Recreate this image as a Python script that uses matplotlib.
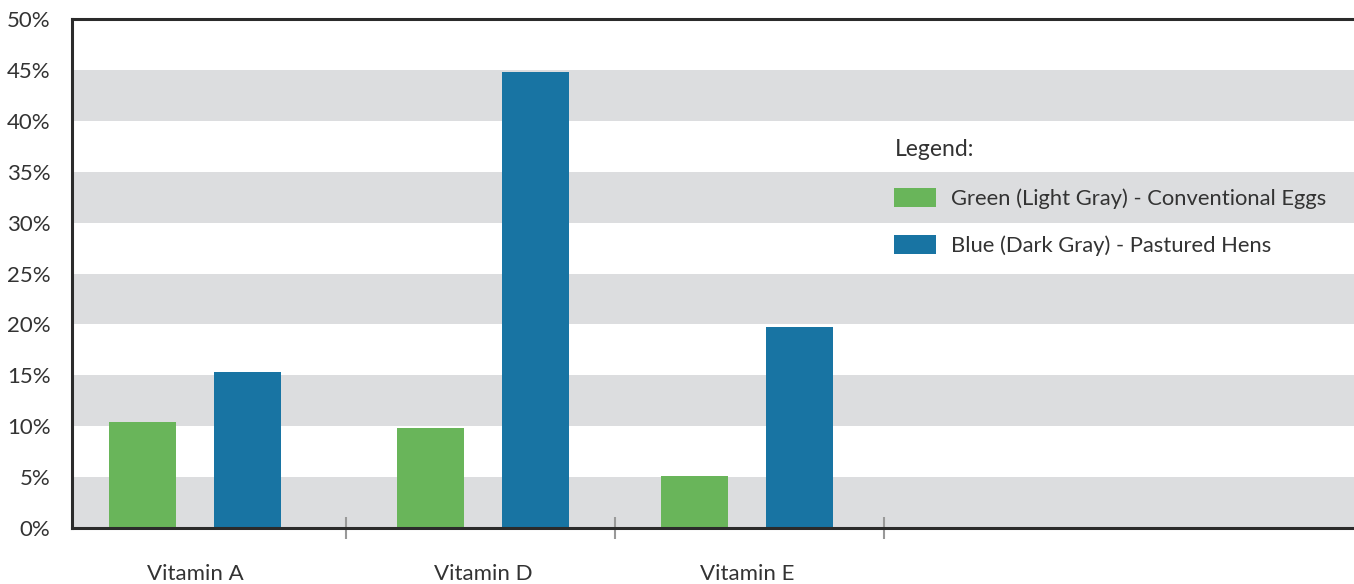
import matplotlib.pyplot as plt
from matplotlib.ticker import FuncFormatter

plt.rcParams['font.family'] = ['Lato', 'DejaVu Sans']

vitamins = ['Vitamin A', 'Vitamin D', 'Vitamin E']
conventional = [10.4, 9.8, 5.1]
pastured = [15.3, 44.8, 19.7]
group_centers = [0.44, 1.51, 2.49]
separators = [1.0, 2.0, 3.0]

green = '#69b55a'
blue = '#1874a3'
band = '#dcdddf'
txt = '#333333'

fig = plt.figure(figsize=(13.54, 5.84), dpi=100)
ax = fig.add_axes([72 / 1354, 56 / 584, 1 - 72 / 1354, 509 / 584])

# horizontal gray bands behind the bars
for lo in range(0, 50, 10):
    ax.axhspan(lo, lo + 5, color=band, lw=0, zorder=0)

w = 0.249
off = 0.195
ax.bar([c - off for c in group_centers], conventional, width=w, color=green,
       label='Green (Light Gray) - Conventional Eggs', zorder=2)
ax.bar([c + off for c in group_centers], pastured, width=w, color=blue,
       label='Blue (Dark Gray) - Pastured Hens', zorder=2)

ax.set_ylim(0, 50)
ax.set_xlim(-0.0186, 4.747)
ax.set_yticks(range(0, 55, 5))
ax.yaxis.set_major_formatter(FuncFormatter(lambda v, p: f'{v:.0f}%'))
ax.tick_params(axis='y', length=0, pad=15.5, labelsize=16, labelcolor=txt)

ax.set_xticks(group_centers)
ax.set_xticklabels(vitamins)
ax.tick_params(axis='x', which='major', length=0, pad=26, labelsize=16, labelcolor=txt)
ax.set_xticks(separators, minor=True)
ax.tick_params(axis='x', which='minor', direction='inout', length=16, width=1.5, color='#999999')

for s in ['left', 'top', 'bottom']:
    ax.spines[s].set_color('#2b2b2b')
    ax.spines[s].set_linewidth(2.2)
ax.spines['right'].set_visible(False)

leg = ax.legend(loc='upper left', bbox_to_anchor=(0.633, 0.786), frameon=False,
                title='Legend:', fontsize=15.8, title_fontsize=16.5,
                handlelength=1.9, handleheight=0.95, labelspacing=1.2,
                handletextpad=0.68, borderpad=0)
leg._legend_box.align = 'left'
leg._legend_box.sep = 20
leg.get_title().set_color(txt)
for t in leg.get_texts():
    t.set_color(txt)

fig.savefig('out.png', dpi=100)
